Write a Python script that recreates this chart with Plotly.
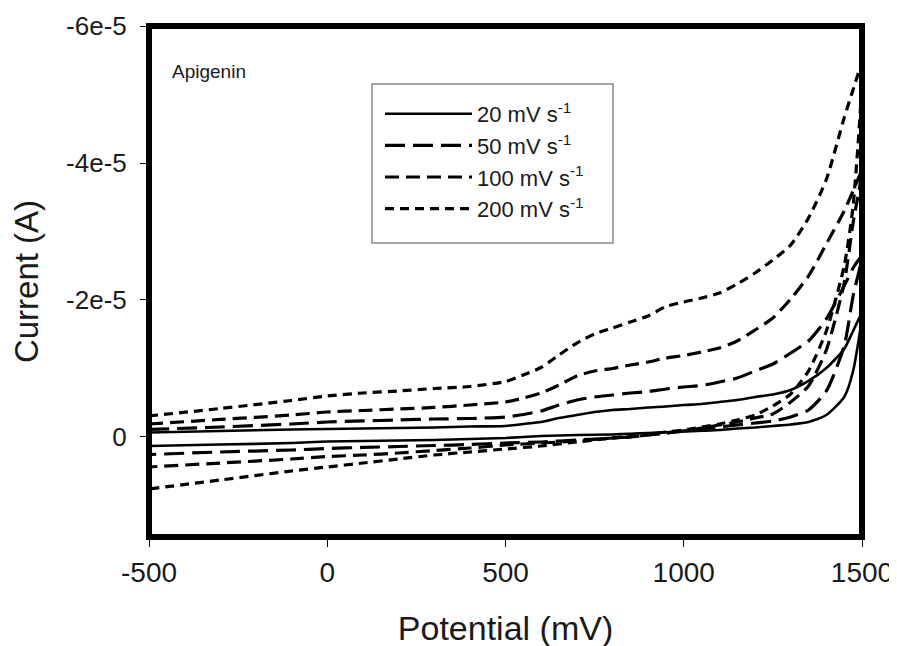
import plotly.graph_objects as go

# Potentials (mV): forward sweep then reverse sweep
potential_fwd = [-500, -300, -100, 0, 100, 200, 300, 400, 500, 550, 600, 650, 700, 750, 800,
                 850, 900, 950, 1000, 1050, 1100, 1150, 1200, 1250, 1300, 1350, 1400, 1450, 1475, 1500]
potential_rev = [1475, 1450, 1400, 1350, 1300, 1250, 1200, 1150, 1100, 1050, 1000, 950, 900, 850,
                 800, 700, 600, 500, 400, 300, 200, 100, 0, -100, -300, -500]

# Currents in microamps
i20_fwd = [-0.66, -0.88, -1.10, -1.17, -1.24, -1.31, -1.39, -1.53, -1.61, -1.90, -2.19, -2.77, -3.21, -3.65, -3.94,
           -4.09, -4.31, -4.45, -4.67, -4.82, -5.11, -5.40, -5.84, -6.21, -6.86, -8.18, -10.07, -12.85, -15.48, -18.10]
i20_rev = [-9.64, -5.84, -3.21, -2.19, -1.83, -1.61, -1.39, -1.24, -1.02, -0.91, -0.80, -0.69, -0.58, -0.47,
           -0.37, -0.29, -0.15, 0.15, 0.29, 0.44, 0.51, 0.58, 0.66, 0.88, 1.10, 1.31]

i50_fwd = [-1.10, -1.46, -1.90, -2.19, -2.34, -2.48, -2.63, -2.70, -2.92, -3.29, -3.80, -4.67, -5.40, -5.84, -6.13,
           -6.42, -6.64, -7.01, -7.30, -7.52, -8.03, -8.61, -9.64, -10.66, -12.26, -14.02, -17.23, -22.05, -24.67, -26.43]
i50_rev = [-20.59, -13.29, -6.72, -3.94, -2.92, -2.34, -2.04, -1.75, -1.46, -1.17, -0.88, -0.58, -0.29, 0.0,
           0.15, 0.44, 0.73, 0.88, 1.10, 1.24, 1.39, 1.53, 1.68, 1.90, 2.19, 2.56]

i100_fwd = [-1.90, -2.56, -3.21, -3.65, -3.87, -4.09, -4.31, -4.67, -5.11, -5.69, -6.42, -7.59, -8.91, -9.64, -10.00,
            -10.51, -10.95, -11.53, -11.90, -12.41, -12.99, -14.02, -15.62, -17.37, -20.15, -23.51, -28.18, -33.00, -35.92, -38.84]
i100_rev = [-31.24, -22.48, -12.70, -7.45, -5.11, -3.36, -2.77, -2.19, -1.75, -1.31, -0.88, -0.58, -0.29, 0.0,
            0.15, 0.58, 0.88, 1.17, 1.61, 1.97, 2.34, 2.63, 2.85, 3.21, 3.80, 4.38]

i200_fwd = [-3.07, -4.16, -5.33, -5.99, -6.42, -6.72, -7.08, -7.37, -8.10, -9.05, -10.15, -11.97, -13.72, -15.04, -15.91,
            -16.79, -17.67, -19.05, -19.71, -20.29, -21.02, -22.34, -23.94, -25.84, -28.03, -31.97, -37.60, -46.60, -50.70, -54.50]
i200_rev = [-33.73, -24.97, -15.48, -9.64, -6.28, -4.53, -3.21, -2.48, -1.90, -1.46, -1.02, -0.73, -0.44, -0.15,
            0.15, 0.73, 1.31, 1.75, 2.19, 2.63, 3.21, 3.80, 4.38, 4.96, 6.28, 7.59]

series_names = ["20 mV s<sup>-1</sup>", "50 mV s<sup>-1</sup>", "100 mV s<sup>-1</sup>", "200 mV s<sup>-1</sup>"]
series_fwd = [i20_fwd, i50_fwd, i100_fwd, i200_fwd]
series_rev = [i20_rev, i50_rev, i100_rev, i200_rev]
series_dash = ["solid", "20px,8px", "14px,7px", "9px,6px"]
series_width = [2.6, 3.2, 3.2, 3.2]

y_tickvals = [-6e-5, -4e-5, -2e-5, 0]
y_ticktext = ["-6e-5", "-4e-5", "-2e-5", "0"]
x_tickvals = [-500, 0, 500, 1000, 1500]
x_ticktext = ["-500", "0", "500", "1000", "1500"]

FONT = "Arial, Liberation Sans, sans-serif"
TXT = "#1a1a1a"

# page offset of the figure div inside the browser page
OFF_X, OFF_Y = 8, 7
W, H = 897 - OFF_X, 646 - OFF_Y
# desired plot area in window pixels: x 149..862, y 25..536
PL, PR, PT, PB = 149, 862, 25, 536
def px(x):
    return (x - PL) / (PR - PL)
def py(y):
    return (PB - y) / (PB - PT)

fig = go.Figure()
for k, (name, fwd, rev, dash, w) in enumerate(zip(series_names, series_fwd, series_rev, series_dash, series_width)):
    xs = potential_fwd + potential_rev
    ys = [v * 1e-6 for v in fwd + rev]
    fig.add_trace(go.Scatter(
        x=xs, y=ys, mode="lines", name=name, legendgroup=f"g{k}",
        line=dict(color="black", width=w, dash=dash, shape="spline", smoothing=0.6),
        hoverinfo="skip",
    ))

fig.update_layout(
    width=W, height=H,
    margin=dict(l=PL - OFF_X, r=897 - PR, t=PT - OFF_Y, b=646 - PB),
    paper_bgcolor="white", plot_bgcolor="white",
    font=dict(family=FONT, color=TXT),
    showlegend=True,
    legend=dict(
        x=px(380), y=py(92), xanchor="left", yanchor="top",
        bgcolor="rgba(0,0,0,0)", borderwidth=0,
        font=dict(size=22, family=FONT, color=TXT),
        itemwidth=87, tracegroupgap=0,
    ),
    xaxis=dict(
        range=[-500, 1500], tickvals=x_tickvals, ticktext=x_ticktext, ticks="outside", ticklen=9, tickwidth=1.2,
        tickcolor="black", showgrid=False, zeroline=False, showline=False, automargin=False,
        tickfont=dict(size=28, family=FONT, color=TXT), ticklabelstandoff=1,
        title=dict(text="Potential (mV)", font=dict(size=34, family=FONT, color=TXT), standoff=31),
    ),
    yaxis=dict(
        range=[1.46e-5, -6e-5], tickvals=y_tickvals, ticktext=y_ticktext, ticks="outside", ticklen=8,
        tickwidth=1.2, tickcolor="black", showgrid=False, zeroline=False, showline=False, automargin=False,
        tickfont=dict(size=26, family=FONT, color=TXT), ticklabelstandoff=8,
        title=dict(text="Current (A)", font=dict(size=33, family=FONT, color=TXT), standoff=18),
    ),
    shapes=[
        dict(type="rect", xref="paper", yref="paper", x0=0, x1=1, y0=0, y1=1,
             line=dict(color="black", width=6), layer="above"),
        dict(type="rect", xref="paper", yref="paper", x0=px(372), x1=px(613), y0=py(242), y1=py(83),
             line=dict(color="#8a8a8a", width=1.5), fillcolor="white", layer="below"),
    ],
    annotations=[dict(text="Apigenin", xref="paper", yref="paper", x=px(170), y=py(70),
                      xanchor="left", yanchor="middle", showarrow=False,
                      font=dict(size=19, family=FONT, color=TXT))],
)

fig.write_html("out.html")
